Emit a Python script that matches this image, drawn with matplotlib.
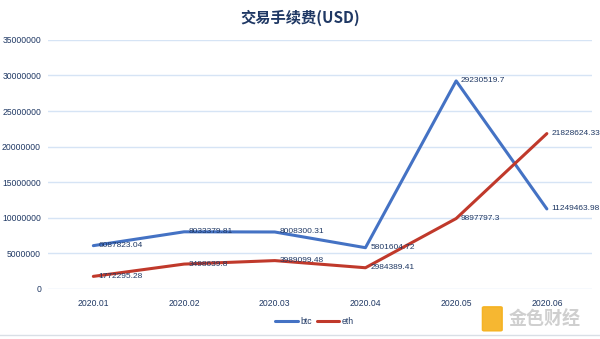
import matplotlib
matplotlib.use("Agg")
import matplotlib.pyplot as plt
from matplotlib.patches import FancyBboxPatch

plt.rcParams["font.family"] = ["Liberation Sans", "Noto Sans CJK SC", "DejaVu Sans"]

# data
months = ["2020.01", "2020.02", "2020.03", "2020.04", "2020.05", "2020.06"]
btc = [6087823.04, 8033379.81, 8008300.31, 5801604.72, 29230519.7, 11249463.98]
eth = [1772295.28, 3498639.8, 3989099.48, 2984389.41, 9897797.3, 21828624.33]
btc_labels = ["6087823.04", "8033379.81", "8008300.31", "5801604.72", "29230519.7", "11249463.98"]
eth_labels = ["1772295.28", "3498639.8", "3989099.48", "2984389.41", "9897797.3", "21828624.33"]
yticks = [0, 5000000, 10000000, 15000000, 20000000, 25000000, 30000000, 35000000]

TEXT = "#1f3864"
BLUE = "#4472c4"
RED = "#c0392b"

fig = plt.figure(figsize=(6, 3.39), dpi=100)
ax = fig.add_axes([0.08, 0.1475, 0.907, 0.735])

x = list(range(len(months)))
ax.plot(x, btc, color=BLUE, lw=2.2, label="btc", solid_capstyle="round", zorder=3)
ax.plot(x, eth, color=RED, lw=2.2, label="eth", solid_capstyle="round", zorder=3)

for xi, v, s in zip(x, btc, btc_labels):
    ax.annotate(s, (xi, v), xytext=(3.5, 0), textcoords="offset points",
                ha="left", va="center", fontsize=6, color=TEXT, zorder=4)
for xi, v, s in zip(x, eth, eth_labels):
    ax.annotate(s, (xi, v), xytext=(3.5, 0), textcoords="offset points",
                ha="left", va="center", fontsize=6, color=TEXT, zorder=4)

ax.set_xlim(-0.5, 5.5)
ax.set_ylim(0, 35000000)
ax.set_yticks(yticks)
ax.set_yticklabels([str(t) for t in yticks])
ax.set_xticks(x)
ax.set_xticklabels(months)
ax.tick_params(axis="both", length=0, labelsize=6.2, labelcolor=TEXT)
ax.tick_params(axis="y", pad=5)
ax.tick_params(axis="x", pad=7)
ax.grid(axis="y", color="#d6e4f5", lw=1)
ax.set_axisbelow(True)
for sp in ax.spines.values():
    sp.set_visible(False)

fig.text(0.5, 0.948, "交易手续费(USD)", ha="center", va="center",
         fontsize=11, fontweight="bold", color=TEXT,
         family=["Noto Sans CJK SC", "DejaVu Sans"])

ax.legend(loc="center", bbox_to_anchor=(0.49, -0.13), ncol=2, frameon=False,
          fontsize=6.2, labelcolor=TEXT, handlelength=2.6, handletextpad=0.3,
          columnspacing=0.6)

# watermark in the lower right corner
fig.patches.append(FancyBboxPatch((0.807, 0.027), 0.027, 0.065, boxstyle="round,pad=0.003",
                                  transform=fig.transFigure, color="#f5b01a", alpha=0.9))
fig.text(0.848, 0.058, "金色财经", ha="left", va="center", fontsize=13,
         color="#cfcfcf", fontweight="bold", family=["Noto Sans CJK SC"])

fig.add_artist(plt.Line2D([0, 1], [0.012, 0.012], transform=fig.transFigure,
                          color="#d9dfe6", lw=1))

fig.savefig("out.png", dpi=100)
